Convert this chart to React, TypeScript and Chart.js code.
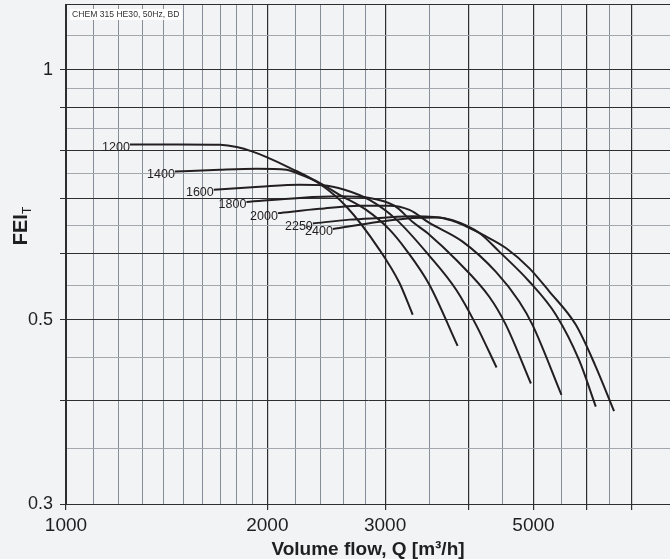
import React, { useEffect, useRef } from 'react';
import { Chart, registerables } from 'chart.js';

Chart.register(...registerables);

// ---------- data ----------
const rpmLabels = ['1200', '1400', '1600', '1800', '2000', '2250', '2400'];

const flow1200 = [1246, 1480, 1700, 1800, 1901, 1995, 2160, 2394, 2627, 2943, 3151, 3299];
const fei1200 = [0.813, 0.813, 0.812, 0.807, 0.797, 0.785, 0.762, 0.729, 0.684, 0.607, 0.554, 0.507];

const flow1400 = [1455, 1698, 1928, 2137, 2212, 2394, 2565, 2811, 3046, 3225, 3494, 3851];
const fei1400 = [0.754, 0.758, 0.76, 0.758, 0.751, 0.731, 0.707, 0.678, 0.642, 0.607, 0.551, 0.465];

const flow1600 = [1663, 1948, 2235, 2419, 2609, 2843, 3119, 3494, 3834, 4103, 4403];
const fei1600 = [0.717, 0.723, 0.727, 0.726, 0.717, 0.697, 0.66, 0.597, 0.543, 0.493, 0.438];

const flow1800 = [1861, 2235, 2565, 2843, 3098, 3296, 3494, 3834, 4294, 4547, 4956];
const fei1800 = [0.693, 0.701, 0.704, 0.701, 0.686, 0.656, 0.633, 0.59, 0.533, 0.493, 0.419];

const flow2000 = [2074, 2394, 2747, 3046, 3262, 3494, 3917, 4394, 4760, 4983, 5506];
const fei2000 = [0.672, 0.68, 0.686, 0.686, 0.678, 0.654, 0.621, 0.571, 0.526, 0.493, 0.406];

const flow2250 = [2339, 2654, 2943, 3300, 3550, 3786, 4150, 4444, 4927, 5401, 5851, 6196];
const fei2250 = [0.653, 0.66, 0.663, 0.666, 0.665, 0.659, 0.636, 0.604, 0.556, 0.507, 0.447, 0.393];

const flow2400 = [2506, 2943, 3300, 3600, 3800, 3963, 4246, 4547, 4927, 5278, 5785, 6181, 6599];
const fei2400 = [0.643, 0.656, 0.663, 0.664, 0.657, 0.648, 0.63, 0.61, 0.577, 0.541, 0.493, 0.441, 0.388];

const flows = [flow1200, flow1400, flow1600, flow1800, flow2000, flow2250, flow2400];
const feis = [fei1200, fei1400, fei1600, fei1800, fei2000, fei2250, fei2400];

const xMin = 1000;
const xMax = 8000;
const yMin = 0.3;
const yMax = 1.2;

const xGridValues = [
  1000, 1100, 1200, 1300, 1400, 1500, 1600, 1700, 1800, 1900, 2000,
  2200, 2400, 2600, 2800, 3000, 3500, 4000, 4500, 5000, 5500, 6000, 6500, 7000,
];
const xMajorValues = [1000, 2000, 3000, 4000, 5000, 6000, 7000];
const xLabelValues = [1000, 2000, 3000, 5000];

const yGridValues = [
  0.3, 0.35, 0.4, 0.45, 0.5, 0.55, 0.6, 0.65, 0.7, 0.75, 0.8, 0.85, 0.9, 0.95, 1, 1.1,
];
const yMajorValues = [0.3, 0.4, 0.5, 0.6, 0.7, 0.8, 0.9, 1];
const yLabelValues = [0.3, 0.5, 1];

const headerText = 'CHEM 315 HE30, 50Hz, BD';
const xTitle = 'Volume flow, Q [m³/h]';
const yTitleMain = 'FEI';
const yTitleSub = 'T';

// ---------- styles ----------
const BG = '#f2f3f5';
const CURVE = '#231f20';
const MAJOR = '#2e2e2e';
const MINOR_X = '#858e98';
const MINOR_Y = '#a2a8ae';
const FONT = "'Liberation Sans', Arial, Helvetica, sans-serif";

const overlayPlugin = {
  id: 'overlay',
  beforeDraw(chart: any) {
    const { ctx, width, height } = chart;
    ctx.save();
    ctx.fillStyle = BG;
    ctx.fillRect(0, 0, width, height);
    ctx.restore();
  },
  afterDatasetsDraw(chart: any) {
    const { ctx } = chart;
    ctx.save();
    ctx.font = `12.5px ${FONT}`;
    ctx.fillStyle = CURVE;
    ctx.textAlign = 'right';
    ctx.textBaseline = 'middle';
    chart.data.datasets.forEach((ds: any, i: number) => {
      const meta = chart.getDatasetMeta(i);
      const p = meta.data[0];
      if (!p) return;
      ctx.fillText(ds.label, p.x, p.y + 3);
    });
    ctx.restore();
  },
  afterDraw(chart: any) {
    const { ctx, chartArea } = chart;
    ctx.save();
    // top border
    ctx.strokeStyle = MAJOR;
    ctx.lineWidth = 1;
    ctx.beginPath();
    ctx.moveTo(chartArea.left, chartArea.top + 0.5);
    ctx.lineTo(chartArea.right, chartArea.top + 0.5);
    ctx.stroke();

    // header box
    ctx.fillStyle = '#ffffff';
    ctx.fillRect(chartArea.left + 4, chartArea.top + 5, 112, 11);
    ctx.fillStyle = '#333333';
    ctx.font = `8.6px ${FONT}`;
    ctx.textAlign = 'left';
    ctx.textBaseline = 'middle';
    ctx.fillText(headerText, chartArea.left + 6, chartArea.top + 11);

    // x title
    ctx.fillStyle = '#1f1f1f';
    ctx.font = `bold 19px ${FONT}`;
    ctx.textAlign = 'center';
    ctx.textBaseline = 'middle';
    ctx.fillText(xTitle, (chartArea.left + chartArea.right) / 2, 550);

    // y title with subscript
    ctx.translate(20, 226);
    ctx.rotate(-Math.PI / 2);
    ctx.font = `bold 20px ${FONT}`;
    const wMain = ctx.measureText(yTitleMain).width;
    ctx.font = `12px ${FONT}`;
    const wSub = ctx.measureText(yTitleSub).width;
    const total = wMain + wSub;
    ctx.textAlign = 'left';
    ctx.textBaseline = 'alphabetic';
    ctx.font = `bold 20px ${FONT}`;
    ctx.fillText(yTitleMain, -total / 2, 7);
    ctx.font = `12px ${FONT}`;
    ctx.fillText(yTitleSub, -total / 2 + wMain, 11);
    ctx.restore();
  },
};

export default function App() {
  const canvasRef = useRef<HTMLCanvasElement | null>(null);

  useEffect(() => {
    if (!canvasRef.current) return;
    const datasets = rpmLabels.map((label, i) => ({
      label,
      data: flows[i].map((x, j) => ({ x, y: feis[i][j] })),
      borderColor: CURVE,
      backgroundColor: CURVE,
      borderWidth: 2,
      pointRadius: 0,
      showLine: true,
      cubicInterpolationMode: 'monotone' as const,
      fill: false,
    }));

    const chart = new Chart(canvasRef.current, {
      type: 'scatter',
      data: { datasets },
      options: {
        responsive: false,
        animation: false,
        events: [],
        layout: { padding: { top: 4, right: 0, bottom: 0, left: 0 } },
        plugins: {
          legend: { display: false },
          tooltip: { enabled: false },
          title: { display: false },
        },
        scales: {
          x: {
            type: 'logarithmic',
            min: xMin,
            max: xMax,
            afterBuildTicks: (scale: any) => {
              scale.ticks = xGridValues.map((v) => ({ value: v }));
            },
            afterFit: (scale: any) => {
              scale.height = 55;
              scale.paddingLeft = 0;
              scale.paddingRight = 0;
            },
            border: { display: true, color: MAJOR, width: 1 },
            grid: {
              drawTicks: true,
              tickLength: 6,
              color: (c: any) => (xMajorValues.includes(c.tick?.value) ? MAJOR : MINOR_X),
              lineWidth: (c: any) => (xMajorValues.includes(c.tick?.value) ? 1.2 : 1),
              tickColor: (c: any) => (xMajorValues.includes(c.tick?.value) ? MAJOR : 'rgba(0,0,0,0)'),
            },
            ticks: {
              autoSkip: false,
              maxRotation: 0,
              minRotation: 0,
              padding: 4,
              color: '#1f1f1f',
              font: { family: FONT, size: 19 },
              callback: (v: any) => (xLabelValues.includes(Number(v)) ? String(v) : ''),
            },
          },
          y: {
            type: 'logarithmic',
            min: yMin,
            max: yMax,
            afterBuildTicks: (scale: any) => {
              scale.ticks = yGridValues.map((v) => ({ value: v }));
            },
            afterFit: (scale: any) => {
              scale.width = 66;
              scale.paddingTop = 0;
              scale.paddingBottom = 0;
            },
            border: { display: true, color: MAJOR, width: 1 },
            grid: {
              drawTicks: true,
              tickLength: 6,
              color: (c: any) => (yMajorValues.includes(c.tick?.value) ? MAJOR : MINOR_Y),
              lineWidth: 1,
              tickColor: (c: any) => (yMajorValues.includes(c.tick?.value) ? MAJOR : 'rgba(0,0,0,0)'),
            },
            ticks: {
              autoSkip: false,
              padding: 7,
              color: '#1f1f1f',
              font: { family: FONT, size: 18 },
              callback: (v: any) => (yLabelValues.includes(Number(v)) ? String(v) : ''),
            },
          },
        },
      },
      plugins: [overlayPlugin],
    } as any);

    return () => chart.destroy();
  }, []);

  return (
    <div
      style={{
        position: 'fixed',
        left: 0,
        top: 0,
        width: 670,
        height: 559,
        background: BG,
      }}
    >
      <canvas ref={canvasRef} width={670} height={559} style={{ display: 'block' }} />
    </div>
  );
}
